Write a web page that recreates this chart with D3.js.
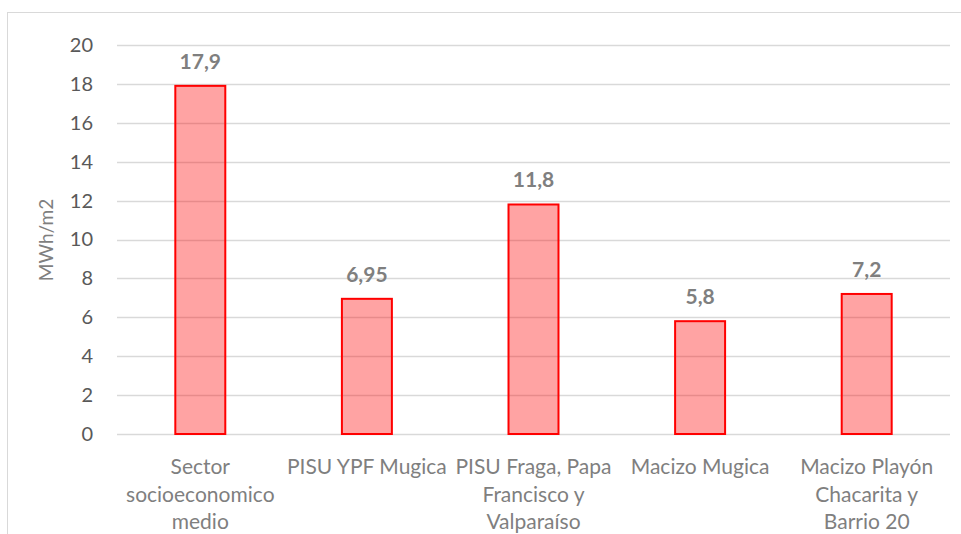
<!DOCTYPE html>
<html>
<head>
<meta charset="utf-8">
<script src="https://cdn.jsdelivr.net/npm/d3@7/dist/d3.min.js"></script>
<style>
  html, body { margin: 0; padding: 0; background: #fff; }
  svg { display: block; font-family: Lato, "Open Sans", "Liberation Sans", sans-serif; }
</style>
</head>
<body>
<svg id="chart" width="961" height="534"></svg>
<script>
// Consumo por sector (MWh/m2)
const categories = [
  ["Sector", "socioeconomico", "medio"],
  ["PISU YPF Mugica"],
  ["PISU Fraga, Papa", "Francisco y", "Valparaíso"],
  ["Macizo Mugica"],
  ["Macizo Playón", "Chacarita y", "Barrio 20"]
];
const values = [17.9, 6.95, 11.8, 5.8, 7.2];
const valueLabels = ["17,9", "6,95", "11,8", "5,8", "7,2"];
const yTicks = [0, 2, 4, 6, 8, 10, 12, 14, 16, 18, 20];
const yTitle = "MWh/m2";

const svg = d3.select("#chart");
const margin = { left: 117, right: 11, top: 45, bottom: 100 };
const W = 961, H = 534;

// chart frame
svg.append("rect")
  .attr("x", 7.5).attr("y", 12.5)
  .attr("width", 970).attr("height", 540)
  .attr("fill", "none").attr("stroke", "#d9d9d9").attr("stroke-width", 1);

const x = d3.scaleBand()
  .domain(d3.range(categories.length))
  .range([margin.left, W - margin.right])
  .paddingInner(0.7).paddingOuter(0.35);

const y = d3.scaleLinear().domain([0, 20]).range([434, 45]);

// gridlines
svg.append("g")
  .selectAll("line").data(yTicks).join("line")
  .attr("x1", margin.left).attr("x2", W - margin.right)
  .attr("y1", d => Math.round(y(d)) + 0.5).attr("y2", d => Math.round(y(d)) + 0.5)
  .attr("stroke", "#d9d9d9").attr("stroke-width", 1.3);

// y axis labels
const yAxis = d3.axisLeft(y).tickValues(yTicks).tickSize(0).tickPadding(0);
const gy = svg.append("g").attr("transform", "translate(93,0)").call(yAxis);
gy.select(".domain").remove();
gy.selectAll("text")
  .attr("fill", "#595959").attr("font-size", 20)
  .attr("font-family", "Lato, 'Open Sans', sans-serif");

// y title
svg.append("text")
  .attr("transform", "translate(53,240) rotate(-90)")
  .attr("text-anchor", "middle")
  .attr("fill", "#7f7f7f").attr("font-size", 19)
  .text(yTitle);

// bars
svg.append("g")
  .selectAll("rect").data(values).join("rect")
  .attr("x", (d, i) => x(i))
  .attr("y", d => y(d))
  .attr("width", x.bandwidth())
  .attr("height", d => y(0) - y(d))
  .attr("fill", "rgba(255,0,0,0.36)")
  .attr("stroke", "#ff0000").attr("stroke-width", 2);

// value labels
svg.append("g")
  .selectAll("text").data(values).join("text")
  .attr("x", (d, i) => x(i) + x.bandwidth() / 2)
  .attr("y", d => y(d) - 17)
  .attr("text-anchor", "middle")
  .attr("fill", "#7f7f7f").attr("font-size", 21).attr("font-weight", "bold")
  .text((d, i) => valueLabels[i]);

// category labels
const gx = svg.append("g");
categories.forEach((lines, i) => {
  const t = gx.append("text")
    .attr("x", x(i) + x.bandwidth() / 2)
    .attr("y", 474)
    .attr("text-anchor", "middle")
    .attr("fill", "#7f7f7f").attr("font-size", 21);
  lines.forEach((ln, j) => {
    t.append("tspan")
      .attr("x", x(i) + x.bandwidth() / 2)
      .attr("dy", j === 0 ? 0 : 27.5)
      .text(ln);
  });
});
</script>
</body>
</html>
